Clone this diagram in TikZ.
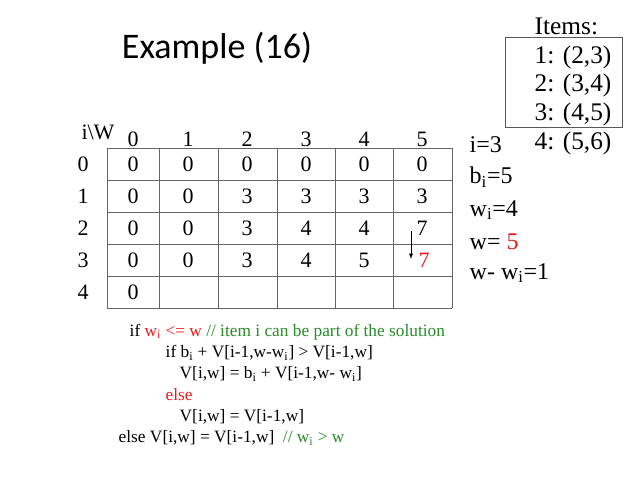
\documentclass[tikz,border=0pt]{standalone}
\usepackage{fontspec}
\setmainfont{Liberation Serif}
\newfontfamily\titlefont{Carlito}
\definecolor{cred}{RGB}{230,30,30}
\definecolor{cgreen}{RGB}{40,140,40}
\begin{document}
\begin{tikzpicture}[x=0.75pt,y=-0.75pt,
  cell/.style={font=\fontsize{16.5}{18}\selectfont},
  code/.style={font=\fontsize{13}{15}\selectfont,anchor=west},
  side/.style={font=\fontsize{18}{20}\selectfont,anchor=west}]
\useasboundingbox (0,0) rectangle (638,478);
\node[font=\titlefont\fontsize{27}{30}\selectfont] (title) at (217,48) {Example (16)};
% items
\node[side,font=\fontsize{19}{21}\selectfont] (items) at (530,26) {Items:};
\draw[gray!70!black] (505,37) rectangle (622,127);
\node[side,font=\fontsize{19}{21}\selectfont] (it1) at (530,57) {1: (2,3)};
\node[side,font=\fontsize{19}{21}\selectfont] (it2) at (530,85) {2: (3,4)};
\node[side,font=\fontsize{19}{21}\selectfont] (it3) at (530,114) {3: (4,5)};
\node[side,font=\fontsize{19}{21}\selectfont] (it4) at (530,143) {4: (5,6)};
% table
\foreach \y in {148,180,212,244,276,308} \draw[gray!80!black] (107,\y) -- (452,\y);
\foreach \x in {107,159,218,277,335,393,452} \draw[gray!80!black] (\x,148) -- (\x,308);
\node[cell] (iw) at (98,132) {i\textbackslash W};
\foreach \c/\x in {0/133,1/188,2/247,3/306,4/364,5/422} \node[cell] (h\c) at (\x,139) {\c};
\foreach \r/\y in {0/164,1/196,2/228,3/260,4/292} \node[cell] (r\r) at (83,\y) {\r};
\foreach \y/\row in {164/{0,0,0,0,0,0},196/{0,0,3,3,3,3},228/{0,0,3,4,4,7}}{
  \foreach \v [count=\k] in \row {
    \pgfmathsetmacro\xx{{133,188,247,306,364,422}[\k-1]}
    \node[cell] at (\xx,\y) {\v};}}
\foreach \v/\x in {0/133,0/188,3/247,4/306,5/364} \node[cell] at (\x,260) {\v};
\node[cell,text=cred] (seven) at (424,260) {7};
\node[cell] at (133,292) {0};
\coordinate (a1) at (411,231);
\coordinate (a2) at (411,259);
\draw[-latex] (a1) -- (a2);
% right side
\node[side] (i3) at (465,145) {i=3};
\node[side] (bi) at (465,177) {b\textsubscript{i}=5};
\node[side] (wi) at (465,210) {w\textsubscript{i}=4};
\node[side] (w5) at (465,242) {w= \textcolor{cred}{5}};
\node[side] (wd) at (465,273) {w- w\textsubscript{i}=1};
% code
\node[code] (c1) at (125,332) {if \textcolor{cred}{w\textsubscript{i} <= w} \textcolor{cgreen}{// item i can be part of the solution}};
\node[code] (c2) at (161,353) {if b\textsubscript{i} + V[i-1,w-w\textsubscript{i}] > V[i-1,w]};
\node[code] (c3) at (175,374) {V[i,w] = b\textsubscript{i} + V[i-1,w- w\textsubscript{i}]};
\node[code,text=cred] (c4) at (161,395) {else};
\node[code] (c5) at (175,417) {V[i,w] = V[i-1,w]};
\node[code] (c6) at (114,438) {else V[i,w] = V[i-1,w]\ \ \textcolor{cgreen}{// w\textsubscript{i} > w}};
\end{tikzpicture}
\end{document}
